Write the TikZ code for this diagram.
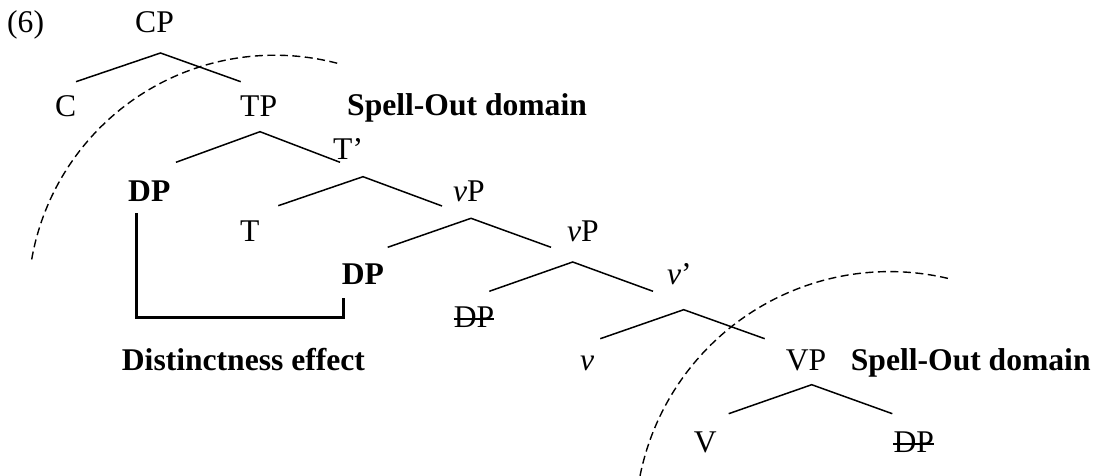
\documentclass[tikz,border=0pt]{standalone}
\usepackage{fontspec}
\setmainfont{Liberation Serif}
\begin{document}
\begin{tikzpicture}[x=1pt,y=1pt,
  lab/.style={inner sep=0pt, anchor=base west, font=\fontsize{31.6}{36}\selectfont},
  boldlab/.style={lab, font=\fontsize{31.6}{36}\selectfont\bfseries},
  branch/.style={line width=1.5pt, line join=miter},
  strike/.style={line width=1.4pt},
  bracket/.style={line width=3pt, line join=miter, line cap=rect},
  sodarc/.style={line width=1.4pt, dash pattern=on 8pt off 4.5pt}]
\useasboundingbox (0,0) rectangle (1101,476);

% labels
\node[lab] (ex) at (7,443.7) {(6)};
\node[lab] (cp) at (135,443.7) {CP};
\node[lab] (c) at (55,359.3) {C};
\node[lab] (tp) at (240,359.3) {TP};
\node[boldlab] (sod1) at (347,360) {Spell-Out domain};
\node[lab] (tbar) at (333,316) {T’};
\node[boldlab] (dp1) at (128,274.3) {DP};
\node[lab] (vp1) at (453,274.3) {\textit{v}P};
\node[lab] (t) at (240,234) {T};
\node[lab] (vp2) at (567,234) {\textit{v}P};
\node[boldlab] (dp2) at (341.7,191.3) {DP};
\node[lab] (vbar) at (667,191.3) {\textit{v}’};
\node[lab] (dp3) at (453.7,148) {DP};
\node[lab] (v) at (580,105) {\textit{v}};
\node[lab] (vp) at (785.7,105) {VP};
\node[boldlab] (sod2) at (850.7,105.5) {Spell-Out domain};
\node[boldlab] (de) at (121.7,105) {Distinctness effect};
\node[lab] (vv) at (693.7,23) {V};
\node[lab] (dp4) at (893.3,23) {DP};

% strike-throughs
\draw[strike] ([yshift=9pt]dp3.base west) -- ([yshift=9pt]dp3.base east);
\draw[strike] ([yshift=9pt]dp4.base west) -- ([yshift=9pt]dp4.base east);

% branch coordinates
\coordinate (cpA) at (160.5,423);   \coordinate (cpL) at (76,394.3);    \coordinate (cpR) at (240.7,394.3);
\coordinate (tpA) at (260,344.3);   \coordinate (tpL) at (176,313.7);   \coordinate (tpR) at (340,313.7);
\coordinate (tbA) at (363,299.3);   \coordinate (tbL) at (278.3,270.3); \coordinate (tbR) at (442,270);
\coordinate (v1A) at (471,257.7);   \coordinate (v1L) at (387.7,228.7); \coordinate (v1R) at (551,228.7);
\coordinate (v2A) at (572.7,214);   \coordinate (v2L) at (489.3,184.7); \coordinate (v2R) at (653,184.7);
\coordinate (vbA) at (683.7,166.3); \coordinate (vbL) at (600.3,137.3); \coordinate (vbR) at (764.7,137.3);
\coordinate (vpA) at (811.7,91.3);  \coordinate (vpL) at (728.7,62.3);  \coordinate (vpR) at (892.3,62.3);

\draw[branch] (cpL) -- (cpA) -- (cpR);
\draw[branch] (tpL) -- (tpA) -- (tpR);
\draw[branch] (tbL) -- (tbA) -- (tbR);
\draw[branch] (v1L) -- (v1A) -- (v1R);
\draw[branch] (v2L) -- (v2A) -- (v2R);
\draw[branch] (vbL) -- (vbA) -- (vbR);
\draw[branch] (vpL) -- (vpA) -- (vpR);

% distinctness bracket
\draw[bracket] ([xshift=8pt,yshift=-13.3pt]dp1.base west)
  |- ([xshift=1.6pt,yshift=-33.3pt]dp2.base west)
  -- ([xshift=1.6pt,yshift=-15pt]dp2.base west);

% spell-out domain arcs
\coordinate (ctr1) at (274.7,174.1);
\coordinate (ctr2) at (889.5,-50.1);
\draw[sodarc] (ctr1) ++(170.1:246.7) arc[start angle=170.1, end angle=74.65, radius=246.7];
\draw[sodarc] (ctr2) ++(168.6:254.5) arc[start angle=168.6, end angle=76.5, radius=254.5];
\end{tikzpicture}
\end{document}
